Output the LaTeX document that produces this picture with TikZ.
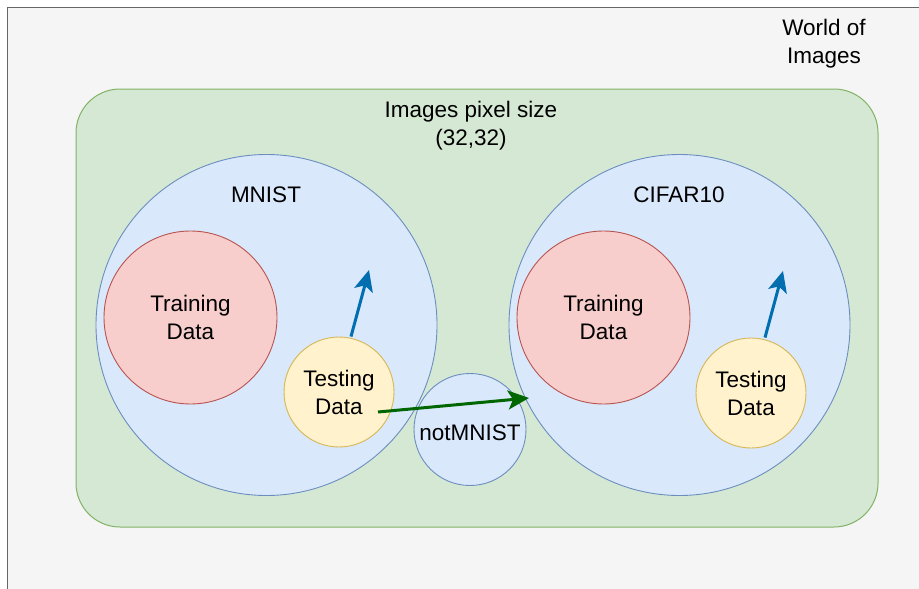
\documentclass[tikz,border=0pt]{standalone}
\usepackage{fontspec}
\setmainfont{Liberation Sans}
\usetikzlibrary{arrows.meta}
\definecolor{bggray}{HTML}{F5F5F5}
\definecolor{bgborder}{HTML}{666666}
\definecolor{grfill}{HTML}{D5E8D4}
\definecolor{grline}{HTML}{82B366}
\definecolor{blfill}{HTML}{DAE8FC}
\definecolor{blline}{HTML}{6C8EBF}
\definecolor{rdfill}{HTML}{F8CECC}
\definecolor{rdline}{HTML}{B85450}
\definecolor{ylfill}{HTML}{FFF2CC}
\definecolor{ylline}{HTML}{D6B656}
\definecolor{arrblue}{HTML}{006EAF}
\definecolor{arrgreen}{HTML}{006600}
\begin{document}
\begin{tikzpicture}[x=1pt,y=-1pt,
  lbl/.style={font=\fontsize{22.5}{28}\selectfont, align=center, text=black},
  setc/.style={circle, draw=blline, fill=blfill, line width=0.9pt, inner sep=0pt},
  trainc/.style={circle, draw=rdline, fill=rdfill, line width=0.9pt, inner sep=0pt, minimum size=173pt},
  testc/.style={circle, draw=ylline, fill=ylfill, line width=0.9pt, inner sep=0pt, minimum size=110pt},
  blarrow/.style={draw=arrblue, line width=3pt, -{Stealth[length=21pt,width=19pt,inset=5pt]}},
  grarrow/.style={draw=arrgreen, line width=3pt, -{Stealth[length=21pt,width=19pt,inset=5pt]}}]
\useasboundingbox (0,0) rectangle (919,589);
\begin{scope}
\clip (0,0) rectangle (919,589);
\draw[fill=bggray, draw=bgborder, line width=1.5pt] (7.5,7.5) rectangle (940,610);
\end{scope}
\node[lbl] (world) at (824,44) {World of\\Images};
\draw[fill=grfill, draw=grline, line width=1pt, rounded corners=44pt] (76,89) rectangle (878,527);
\node[lbl] (pix) at (471,126) {Images pixel size\\(32,32)};
\node[setc, minimum size=341pt] (mnist) at (266.5,325) {};
\node[lbl] at (266,195) (mnistlbl) {MNIST};
\node[setc, minimum size=341pt] (cifar) at (679.5,325) {};
\node[lbl] at (679,195) (cifarlbl) {CIFAR10};
\node[setc, minimum size=112pt] (notm) at (470,429.5) {};
\node[lbl] at (470,433) (notmlbl) {notMNIST};
\node[trainc, lbl] (tr1) at (190.5,317.5) {Training\\Data};
\node[trainc, lbl] (tr2) at (603.5,317.5) {Training\\Data};
\node[testc, lbl] (te1) at (339,392) {Testing\\Data};
\node[testc, lbl] (te2) at (751,393) {Testing\\Data};
\coordinate (a1) at (369,270);
\coordinate (a2) at (783,271);
\coordinate (gs) at (378,412);
\coordinate (ge) at (529,398);
\draw[blarrow] (te1.north) ++(12,0) coordinate (s1) -- (a1);
\draw[blarrow] (te2.north) ++(14,0) coordinate (s2) -- (a2);
\draw[grarrow] (gs) -- (ge);
\end{tikzpicture}
\end{document}
